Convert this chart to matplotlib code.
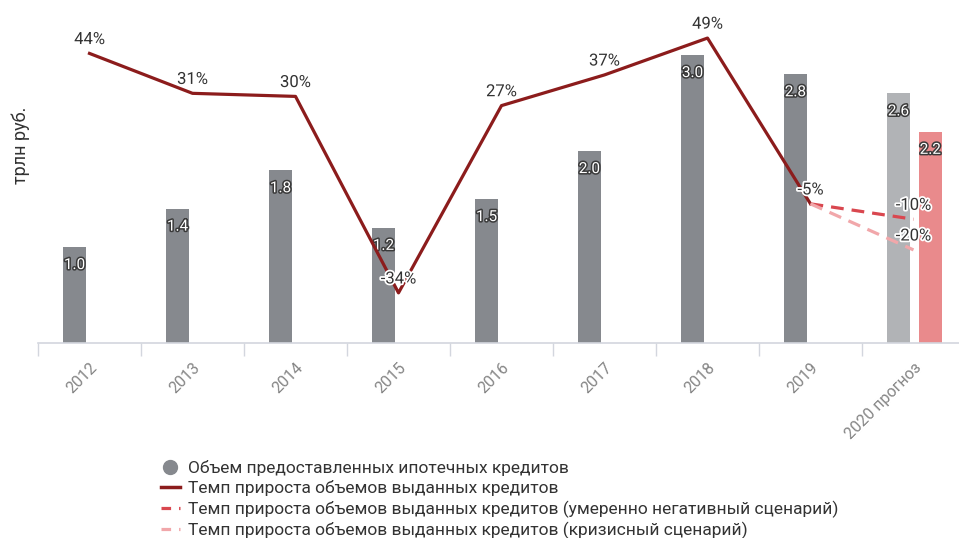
import matplotlib.pyplot as plt
import matplotlib.patheffects as pe
from matplotlib.lines import Line2D
import numpy as np

plt.rcParams['font.family'] = ['Roboto', 'DejaVu Sans']

years = ['2012', '2013', '2014', '2015', '2016', '2017', '2018', '2019', '2020 прогноз']
volume = [1.0, 1.4, 1.8, 1.2, 1.5, 2.0, 3.0, 2.8, 2.6]
volume_crisis_2020 = 2.2
growth = [44, 31, 30, -34, 27, 37, 49, -5]
growth_moderate = [-5, -10]
growth_crisis = [-5, -20]

bar_colors = ['#86898e'] * 8 + ['#b1b3b6']
x = np.arange(len(years))

fig = plt.figure(figsize=(9.59, 5.38), dpi=100)
ax = fig.add_axes([38 / 959, 1 - 343 / 538, 927 / 959, 323 / 538])
ax.set_xlim(-0.5, 8.5)
ax.set_ylim(0, 323 / 96)

bw = 0.22
bars = ax.bar(x - 0.145, volume, width=bw, color=bar_colors, zorder=2)
bar2 = ax.bar(8 + 0.165, volume_crisis_2020, width=bw, color='#e98a8c', zorder=2)

bar_fx = [pe.withStroke(linewidth=2.2, foreground='#3a3a3a')]
for rect, v in zip(list(bars) + list(bar2), volume + [volume_crisis_2020]):
    ax.annotate(f'{v:.1f}', (rect.get_x() + rect.get_width() / 2, v),
                xytext=(0, -13), textcoords='offset points', ha='center', va='center',
                fontsize=11, color='white', path_effects=bar_fx, zorder=5)

for s in ['top', 'right', 'left']:
    ax.spines[s].set_visible(False)
ax.spines['bottom'].set_color('#d3d6de')
ax.spines['bottom'].set_linewidth(1.2)
ax.set_yticks([])
ax.set_xticks(x)
ax.set_xticklabels(years, rotation=45, ha='right', rotation_mode='anchor',
                   fontsize=11.5, color='#858585')
ax.tick_params(axis='x', which='major', length=0, pad=12)
ax.set_xticks(np.arange(-0.5, 8.5, 1), minor=True)
ax.tick_params(axis='x', which='minor', length=9, width=1, color='#d3d6de')
fig.text(21 / 959, 1 - 145 / 538, 'трлн руб.', rotation=90, ha='center', va='center',
         fontsize=13, color='#333333')

# growth rate on its own scale
ax2 = ax.twinx()
ax2.set_ylim(-(343 - 188.5) / 3.07, (188.5 - 20) / 3.07)
ax2.axis('off')
ax2.plot(x[:8], growth, color='#8c1c1c', lw=2.3, zorder=3)
ax2.plot([7, 8], growth_moderate, color='#d9474f', lw=2.3, ls=(0, (4, 2.5)), zorder=3)
ax2.plot([7, 8], growth_crisis, color='#f1a7aa', lw=2.3, ls=(0, (4, 2.5)), zorder=3)

txt_fx = [pe.withStroke(linewidth=2.5, foreground='white')]
labels = list(zip(x[:8], growth)) + [(8, growth_moderate[1]), (8, growth_crisis[1])]
for xi, g in labels:
    ax2.annotate(f'{g}%', (xi, g), xytext=(0, 10), textcoords='offset points',
                 ha='center', va='center', fontsize=12, color='#333333',
                 path_effects=txt_fx, zorder=6)

handles = [
    Line2D([], [], marker='o', ls='none', color='#86898e', markersize=10),
    Line2D([], [], color='#8c1c1c', lw=2.5),
    Line2D([], [], color='#d9474f', lw=2.3, ls=(0, (3, 2.5))),
    Line2D([], [], color='#f1a7aa', lw=2.3, ls=(0, (3, 2.5))),
]
names = [
    'Объем предоставленных ипотечных кредитов',
    'Темп прироста объемов выданных кредитов',
    'Темп прироста объемов выданных кредитов (умеренно негативный сценарий)',
    'Темп прироста объемов выданных кредитов (кризисный сценарий)',
]
fig.legend(handles, names, loc='lower left', bbox_to_anchor=(152 / 959, -0.018),
           frameon=False, fontsize=12.5, handlelength=1.1, handletextpad=0.45,
           labelspacing=0.24, borderaxespad=0.1, labelcolor='#333333')

fig.savefig('out.png', dpi=100)
